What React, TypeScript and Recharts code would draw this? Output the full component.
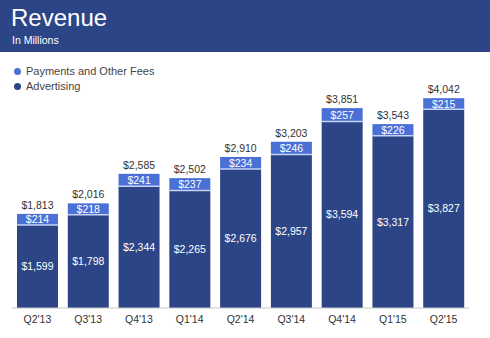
import React from 'react';
import { BarChart, Bar, XAxis, YAxis, LabelList } from 'recharts';

const quarters = ["Q2'13", "Q3'13", "Q4'13", "Q1'14", "Q2'14", "Q3'14", "Q4'14", "Q1'15", "Q2'15"];
const advertising = [1599, 1798, 2344, 2265, 2676, 2957, 3594, 3317, 3827];
const payments = [214, 218, 241, 237, 234, 246, 257, 226, 215];
const totals = [1813, 2016, 2585, 2502, 2910, 3203, 3851, 3543, 4042];

const NAVY = '#2c4586';
const LIGHT = '#4a70d6';
const FONT = '"Liberation Sans", Arial, Helvetica, sans-serif';

const data = quarters.map((q, i) => ({
    quarter: q,
    advertising: advertising[i],
    payments: payments[i],
    total: totals[i],
}));

const money = (v: any) => `$${Number(v).toLocaleString('en-US')}`;

// payments segment with a thin light divider on its lower edge
const PaymentsShape = (props: any) => {
    const { x, y, width, height } = props;
    return (
        <g>
            <rect x={x} y={y} width={width} height={height} fill={LIGHT} />
            <line x1={x} x2={x + width} y1={y + height} y2={y + height} stroke="#c6d3f4" strokeWidth={1.5} />
        </g>
    );
};

const legendItems = [
    { color: LIGHT, text: 'Payments and Other Fees' },
    { color: NAVY, text: 'Advertising' },
];

const App: React.FC = () => {
    return (
        <div style={{ position: 'absolute', left: 0, top: 0, width: 490, height: 338, background: '#fff' }}>
            <div style={{ position: 'absolute', left: 0, top: 0, width: 490, height: 52, background: NAVY, fontFamily: FONT, color: '#fff' }}>
                <div style={{ position: 'absolute', left: 11, top: 2, fontSize: 24, lineHeight: '32px' }}>Revenue</div>
                <div style={{ position: 'absolute', left: 12, top: 34, fontSize: 10.5, lineHeight: '12px' }}>In Millions</div>
            </div>
            <div style={{ position: 'absolute', left: 14, top: 64, fontFamily: FONT, fontSize: 11, color: '#444', lineHeight: '15px', zIndex: 2 }}>
                {legendItems.map((it) => (
                    <div key={it.text} style={{ display: 'flex', alignItems: 'center' }}>
                        <span style={{ width: 7, height: 7, borderRadius: 4, background: it.color, marginRight: 5 }} />
                        {it.text}
                    </div>
                ))}
            </div>
            <BarChart
                width={490}
                height={338}
                data={data}
                margin={{ top: 90, left: 12, right: 21, bottom: 0 }}
                barSize={41}
            >
                <XAxis
                    dataKey="quarter"
                    height={30}
                    tickLine={false}
                    axisLine={{ stroke: '#c8c8c8' }}
                    tick={{ fill: '#333', fontSize: 10.5, fontFamily: FONT }}
                    interval={0}
                />
                <YAxis hide={true} domain={[0, 4200]} />
                <Bar dataKey="advertising" stackId="rev" fill={NAVY} isAnimationActive={false}>
                    <LabelList dataKey="advertising" position="center" formatter={money} fill="#fff" fontSize={10.5} fontFamily={FONT} />
                </Bar>
                <Bar dataKey="payments" stackId="rev" fill={LIGHT} shape={<PaymentsShape />} isAnimationActive={false}>
                    <LabelList dataKey="payments" position="center" formatter={money} fill="#fff" fontSize={10.5} fontFamily={FONT} />
                    <LabelList dataKey="total" position="top" offset={5} formatter={money} fill="#333" fontSize={10.5} fontFamily={FONT} />
                </Bar>
            </BarChart>
        </div>
    );
};

export default App;
